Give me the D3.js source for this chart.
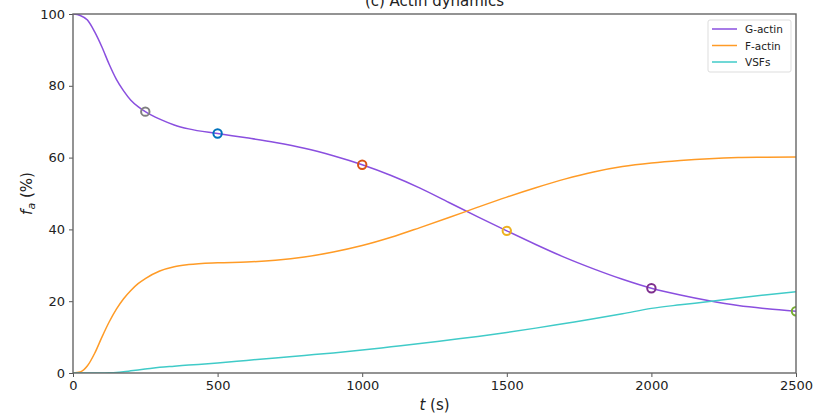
<!DOCTYPE html>
<html>
<head>
<meta charset="utf-8">
<script src="https://cdn.jsdelivr.net/npm/d3@7"></script>
<style>
  body { margin: 0; background: #fff; }
  text { font-family: "DejaVu Sans", sans-serif; fill: #222; }
</style>
</head>
<body>
<svg id="chart" width="815" height="416"></svg>
<script>
// time points (s)
const times = [0, 25, 50, 75, 100, 125, 150, 175, 200, 225, 250, 300, 350, 400, 500, 600, 700, 800, 900, 1000,
  1100, 1200, 1300, 1400, 1500, 1600, 1700, 1800, 1900, 2000, 2100, 2200, 2300, 2400, 2500];
const gActin = [100, 99.6, 98.3, 95.0, 90.8, 86.0, 81.8, 78.6, 76, 74.2, 72.8, 70.7, 69.1, 68, 66.7, 65.5, 64.2, 62.6, 60.5, 58,
  55, 51.5, 47.5, 43.5, 39.6, 35.8, 32.2, 29, 26.1, 23.6, 21.7, 20.1, 18.8, 17.9, 17.2];
const fActin = [0, 0.3, 2, 5.5, 10, 14.2, 17.8, 20.7, 23, 24.9, 26.3, 28.4, 29.6, 30.2, 30.7, 30.9, 31.4, 32.3, 33.7, 35.5,
  37.8, 40.5, 43.3, 46.2, 49, 51.6, 54, 56, 57.5, 58.5, 59.2, 59.7, 60, 60.1, 60.2];
const vsfs = [0, 0, 0, 0, 0, 0.05, 0.15, 0.35, 0.6, 0.85, 1.1, 1.6, 1.9, 2.2, 2.8, 3.5, 4.2, 4.9, 5.6, 6.4,
  7.3, 8.2, 9.2, 10.2, 11.3, 12.5, 13.8, 15.1, 16.5, 18, 19.0, 19.9, 20.9, 21.8, 22.6];

const seriesNames = ["G-actin", "F-actin", "VSFs"];
const seriesColors = ["#8a4fdf", "#ff9b26", "#40cbc8"];

// snapshot markers on G-actin
const markerTimes = [250, 500, 1000, 1500, 2000, 2500];
const markerColors = ["#808080", "#0072bd", "#d95319", "#edb120", "#7e2f8e", "#77ac30"];

const xTicks = [0, 500, 1000, 1500, 2000, 2500];
const yTicks = [0, 20, 40, 60, 80, 100];

const svg = d3.select("#chart");
const margin = { left: 73, right: 19, top: 14, bottom: 43 };
const W = 815, H = 416;

const x = d3.scaleLinear().domain([0, 2500]).range([margin.left, W - margin.right]);
const y = d3.scaleLinear().domain([0, 100]).range([H - margin.bottom, margin.top]);

svg.append("clipPath").attr("id", "clip")
  .append("rect")
  .attr("x", x(0)).attr("y", y(100))
  .attr("width", x(2500) - x(0)).attr("height", y(0) - y(100));

const plot = svg.append("g").attr("clip-path", "url(#clip)");

const allSeries = [gActin, fActin, vsfs];
const line = d3.line()
  .x((d, i) => x(times[i]))
  .y((d) => y(d))
  .curve(d3.curveMonotoneX);

allSeries.forEach((vals, k) => {
  plot.append("path")
    .attr("d", line(vals))
    .attr("fill", "none")
    .attr("stroke", seriesColors[k])
    .attr("stroke-width", 1.5);
});

// markers
markerTimes.forEach((t, i) => {
  const idx = times.indexOf(t);
  plot.append("circle")
    .attr("cx", x(t))
    .attr("cy", y(gActin[idx]))
    .attr("r", 4.2)
    .attr("fill", "none")
    .attr("stroke", markerColors[i])
    .attr("stroke-width", 2);
});

// axes
const xAxis = svg.append("g")
  .attr("transform", `translate(0,${y(0)})`)
  .call(d3.axisBottom(x).tickValues(xTicks).tickSize(4).tickPadding(4).tickFormat(d3.format("d")));
const yAxis = svg.append("g")
  .attr("transform", `translate(${x(0)},0)`)
  .call(d3.axisLeft(y).tickValues(yTicks).tickSize(4).tickPadding(4).tickFormat(d3.format("d")));

[xAxis, yAxis].forEach((a) => {
  a.select(".domain").remove();
  a.selectAll(".tick line").attr("stroke", "#555").attr("stroke-width", 1);
  a.selectAll(".tick text").style("font-size", "13px").attr("fill", "#222");
});

// frame
svg.append("rect")
  .attr("x", x(0)).attr("y", y(100))
  .attr("width", x(2500) - x(0)).attr("height", y(0) - y(100))
  .attr("fill", "none")
  .attr("stroke", "#666")
  .attr("stroke-width", 1.4);

// title (partially cut off at top, as in the source)
svg.append("text")
  .attr("x", (x(0) + x(2500)) / 2)
  .attr("y", 6)
  .attr("text-anchor", "middle")
  .style("font-size", "15px")
  .text("(c) Actin dynamics");

// axis labels
const xl = svg.append("text")
  .attr("x", (x(0) + x(2500)) / 2)
  .attr("y", 410)
  .attr("text-anchor", "middle")
  .style("font-size", "15px");
xl.append("tspan").style("font-style", "italic").text("t");
xl.append("tspan").text(" (s)");

const yl = svg.append("text")
  .attr("transform", `translate(32,${(y(0) + y(100)) / 2}) rotate(-90)`)
  .attr("text-anchor", "middle")
  .style("font-size", "15px");
yl.append("tspan").style("font-style", "italic").text("f");
yl.append("tspan").style("font-style", "italic").style("font-size", "11px").attr("dy", 3).text("a");
yl.append("tspan").attr("dy", -3).text(" (%)");

// legend
const legend = svg.append("g").attr("transform", "translate(708,20)");
legend.append("rect")
  .attr("width", 83).attr("height", 52)
  .attr("rx", 2)
  .attr("fill", "#fff").attr("fill-opacity", 0.8)
  .attr("stroke", "#ddd");
seriesNames.forEach((name, i) => {
  const row = legend.append("g").attr("transform", `translate(0,${9 + i * 16.5})`);
  row.append("line")
    .attr("x1", 4).attr("x2", 29)
    .attr("stroke", seriesColors[i]).attr("stroke-width", 1.5);
  row.append("text")
    .attr("x", 37).attr("y", 4)
    .style("font-size", "10.5px")
    .text(name);
});
</script>
</body>
</html>
